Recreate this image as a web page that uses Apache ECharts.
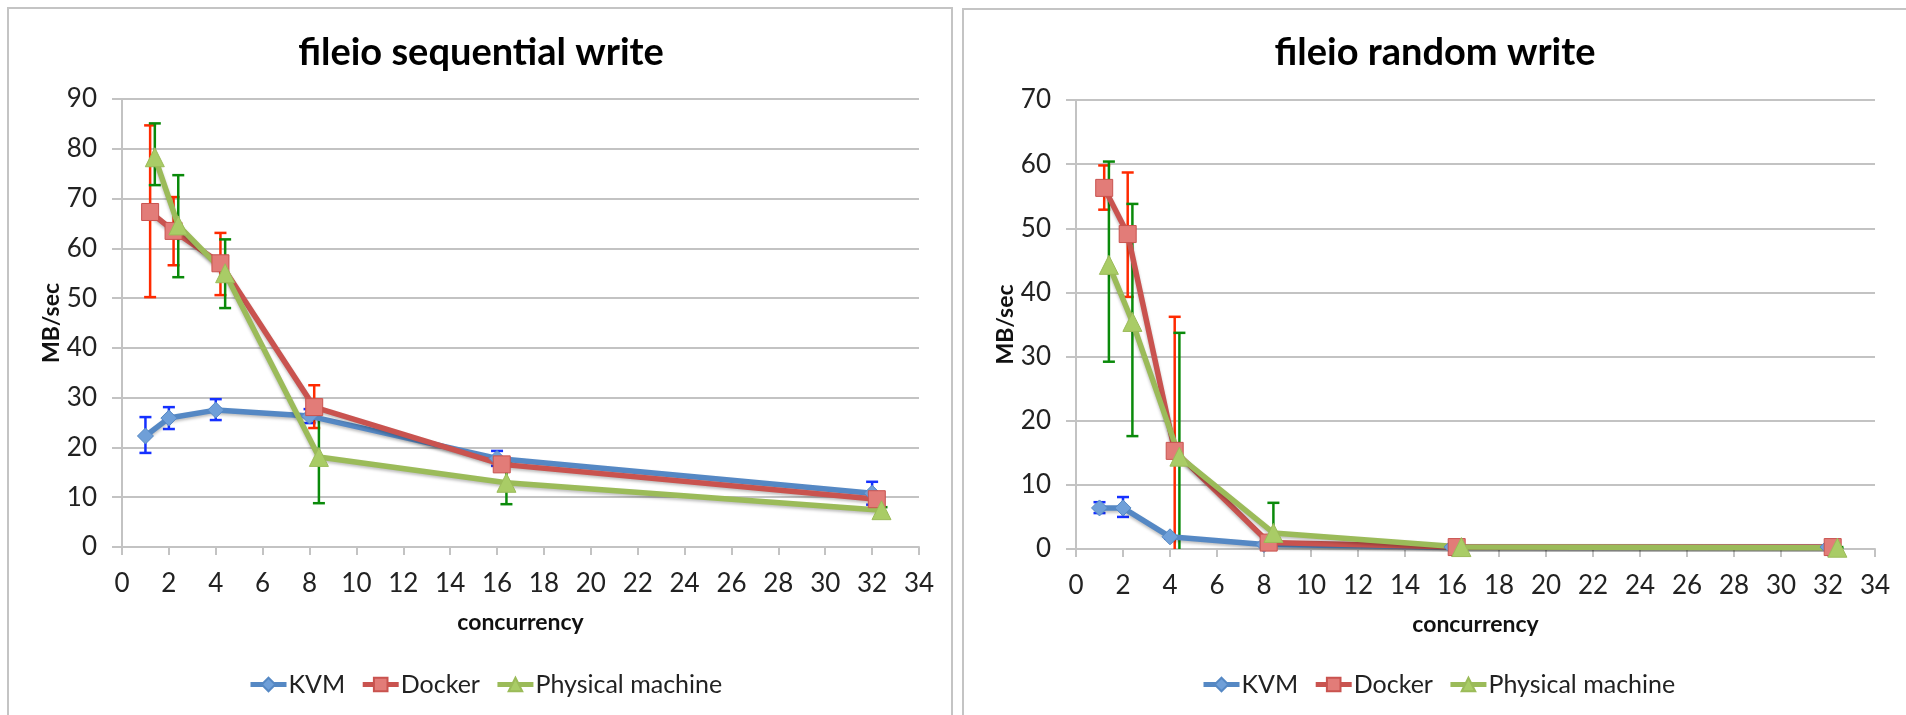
<!DOCTYPE html>
<html>
<head>
<meta charset="utf-8">
<script src="https://cdn.jsdelivr.net/npm/echarts@6/dist/echarts.min.js"></script>
<style>
html,body{margin:0;padding:0;background:#fff;}
#chart{width:1906px;height:715px;}
</style>
</head>
<body>
<div id="chart"></div>
<script>
// ---- data ----
const seriesNames = ['KVM', 'Docker', 'Physical machine'];
const xKVM = [1, 2, 4, 8, 16, 32];
const xDocker = [1.2, 2.2, 4.2, 8.2, 16.2, 32.2];
const xPhysical = [1.4, 2.4, 4.4, 8.4, 16.4, 32.4];

// fileio sequential write (MB/sec)
const seqKVM = [22.3, 25.9, 27.5, 26.3, 17.8, 10.8];
const seqKVMErr = [[18.9, 26.1], [23.7, 28.1], [25.5, 29.7], [24.9, 27.7], [16.3, 19.3], [8.5, 13.1]];
const seqDocker = [67.3, 63.5, 57.0, 28.1, 16.6, 9.6];
const seqDockerErr = [[50.2, 84.7], [56.6, 70.3], [50.6, 63.1], [23.9, 32.5], [15.5, 17.7], [8.8, 10.4]];
const seqPhysical = [78.3, 64.6, 55.0, 18.1, 12.9, 7.4];
const seqPhysicalErr = [[72.7, 85.1], [54.2, 74.7], [48.0, 61.8], [8.8, 27.4], [8.6, 17.2], [6.8, 8.0]];

// fileio random write (MB/sec)
const randKVM = [6.4, 6.4, 1.9, 0.7, 0.3, 0.3];
const randKVMErr = [[5.6, 7.3], [5.0, 8.1], [1.6, 2.2], [0.5, 0.9], [0.2, 0.4], [0.2, 0.4]];
const randDocker = [56.3, 49.1, 15.3, 1.0, 0.3, 0.3];
const randDockerErr = [[52.9, 59.8], [39.3, 58.7], [-5.6, 36.2], [0.5, 1.5], [0.2, 0.4], [0.2, 0.4]];
const randPhysical = [44.3, 35.4, 14.4, 2.5, 0.3, 0.2];
const randPhysicalErr = [[29.2, 60.4], [17.6, 53.8], [-4.9, 33.7], [-2.2, 7.2], [0.1, 0.5], [0.1, 0.3]];

const titles = ['fileio sequential write', 'fileio random write'];
const xName = 'concurrency';
const yName = 'MB/sec';

// ---- styles ----
const FONT = 'Lato, "Open Sans", sans-serif';
const GRID_C = '#c3c3c3';
const lineColors = ['#5588c4', '#c9534f', '#9bbb59'];
const markerFill = ['#6f9fd8', '#e27c78', '#a9cc66'];
const errColors = ['#1530ff', '#ff2a00', '#0a8a0a'];
const symbols = ['diamond', 'rect', 'triangle'];
const symbolSizes = [16, 17, 19];

const chart = echarts.init(document.getElementById('chart'), null, {renderer: 'canvas'});

function pairs(xs, ys) { return xs.map((x, i) => [x, ys[i]]); }
function errData(xs, err) { return xs.map((x, i) => [x, err[i][0], err[i][1]]); }

function errRender(color) {
  return function (params, api) {
    const x = api.value(0), lo = api.value(1), hi = api.value(2);
    const a = api.coord([x, lo]);
    const b = api.coord([x, hi]);
    const hw = 6;
    const st = {stroke: color, lineWidth: 2.5};
    return {
      type: 'group',
      children: [
        {type: 'line', shape: {x1: a[0], y1: a[1], x2: b[0], y2: b[1]}, style: st},
        {type: 'line', shape: {x1: b[0] - hw, y1: b[1], x2: b[0] + hw, y2: b[1]}, style: st},
        {type: 'line', shape: {x1: a[0] - hw, y1: a[1], x2: a[0] + hw, y2: a[1]}, style: st}
      ]
    };
  };
}

function lineSeries(idx, name, xs, ys, gi) {
  return {
    type: 'line', name: name, xAxisIndex: gi, yAxisIndex: gi,
    data: pairs(xs, ys), z: 3,
    symbol: symbols[idx], symbolSize: symbolSizes[idx],
    lineStyle: {color: lineColors[idx], width: 5.5, shadowColor: 'rgba(0,0,0,0.25)', shadowBlur: 3, shadowOffsetY: 2},
    itemStyle: {color: markerFill[idx], borderColor: lineColors[idx], borderWidth: 1},
    emphasis: {disabled: true}, animation: false
  };
}
function errSeries(idx, name, xs, err, gi) {
  return {
    type: 'custom', name: name + ' error', xAxisIndex: gi, yAxisIndex: gi,
    data: errData(xs, err), renderItem: errRender(errColors[idx]),
    encode: {x: 0, y: [1, 2]}, clip: true, z: 2, animation: false, silent: true
  };
}

function xAxis(gi) {
  return {
    type: 'value', gridIndex: gi, min: 0, max: 34, interval: 2,
    name: xName, nameLocation: 'middle', nameGap: 64,
    nameTextStyle: {fontFamily: FONT, fontSize: 23, fontWeight: 'bold', color: '#111'},
    axisLine: {show: true, lineStyle: {color: GRID_C, width: 2}},
    axisTick: {show: true, length: 8, lineStyle: {color: GRID_C, width: 2}},
    axisLabel: {fontFamily: FONT, fontSize: 26, color: '#222', margin: 24},
    splitLine: {show: false}
  };
}
function yAxis(gi, max) {
  return {
    type: 'value', gridIndex: gi, min: 0, max: max, interval: 10,
    name: yName, nameLocation: 'middle', nameGap: 59, nameRotate: 90,
    nameTextStyle: {fontFamily: FONT, fontSize: 23, fontWeight: 'bold', color: '#111'},
    axisLine: {show: true, lineStyle: {color: GRID_C, width: 2}},
    axisTick: {show: true, length: 10, lineStyle: {color: GRID_C, width: 2}},
    axisLabel: {fontFamily: FONT, fontSize: 26, color: '#222', margin: 25},
    splitLine: {show: true, lineStyle: {color: GRID_C, width: 2}}
  };
}

const legendText = {fontFamily: FONT, fontSize: 25, color: '#222', padding: [0, 0, 0, -3]};
const legendLine = {width: 5, shadowBlur: 0};

const option = {
  backgroundColor: '#fff',
  animation: false,
  graphic: [
    {type: 'rect', shape: {x: 8, y: 8, width: 944, height: 730}, style: {fill: '#fff', stroke: '#c4c4c4', lineWidth: 2}, z: -10, silent: true},
    {type: 'rect', shape: {x: 963, y: 9, width: 950, height: 730}, style: {fill: '#fff', stroke: '#c4c4c4', lineWidth: 2}, z: -10, silent: true}
  ],
  title: [
    {text: titles[0], left: 481, top: 34, textAlign: 'center', textVerticalAlign: 'top', padding: 0,
     textStyle: {fontFamily: FONT, fontSize: 38, fontWeight: 'bold', color: '#000'}},
    {text: titles[1], left: 1435, top: 34, textAlign: 'center', textVerticalAlign: 'top', padding: 0,
     textStyle: {fontFamily: FONT, fontSize: 38, fontWeight: 'bold', color: '#000'}}
  ],
  legend: [
    {data: seriesNames, left: 248, top: 672, padding: 0, itemWidth: 36, itemHeight: 17, itemGap: 15, textStyle: legendText, lineStyle: legendLine},
    {data: seriesNames, left: 1201, top: 672, padding: 0, itemWidth: 36, itemHeight: 17, itemGap: 15, textStyle: legendText, lineStyle: legendLine}
  ],
  grid: [
    {left: 122, right: 1906 - 919, top: 99, bottom: 715 - 547},
    {left: 1076, right: 1906 - 1875, top: 100, bottom: 715 - 549}
  ],
  xAxis: [xAxis(0), xAxis(1)],
  yAxis: [yAxis(0, 90), yAxis(1, 70)],
  series: [
    errSeries(0, seriesNames[0], xKVM, seqKVMErr, 0),
    errSeries(1, seriesNames[1], xDocker, seqDockerErr, 0),
    errSeries(2, seriesNames[2], xPhysical, seqPhysicalErr, 0),
    lineSeries(0, seriesNames[0], xKVM, seqKVM, 0),
    lineSeries(1, seriesNames[1], xDocker, seqDocker, 0),
    lineSeries(2, seriesNames[2], xPhysical, seqPhysical, 0),
    errSeries(0, seriesNames[0], xKVM, randKVMErr, 1),
    errSeries(1, seriesNames[1], xDocker, randDockerErr, 1),
    errSeries(2, seriesNames[2], xPhysical, randPhysicalErr, 1),
    lineSeries(0, seriesNames[0], xKVM, randKVM, 1),
    lineSeries(1, seriesNames[1], xDocker, randDocker, 1),
    lineSeries(2, seriesNames[2], xPhysical, randPhysical, 1)
  ]
};
chart.setOption(option);
</script>
</body>
</html>
